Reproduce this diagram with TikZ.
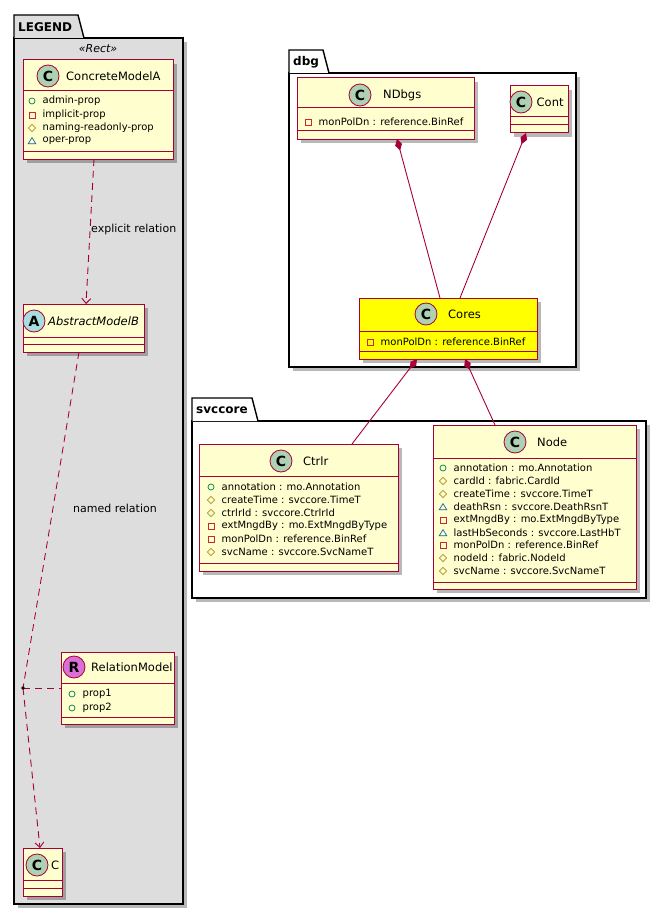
\documentclass[tikz,border=0pt]{standalone}
\usepackage{fontspec}
\setmainfont{DejaVu Sans}
\usetikzlibrary{arrows.meta,shadows}
\definecolor{clsfill}{HTML}{FEFECE}
\definecolor{clsborder}{HTML}{A80036}
\definecolor{spotC}{HTML}{ADD1B2}
\definecolor{spotA}{HTML}{A9DCDF}
\definecolor{spotR}{HTML}{DA70D6}
\definecolor{legendfill}{HTML}{DDDDDD}
\definecolor{vpubc}{HTML}{038048}
\definecolor{vprivc}{HTML}{C82930}
\definecolor{vprotc}{HTML}{B38D22}
\definecolor{vpkgc}{HTML}{1963A0}
\definecolor{coresfill}{HTML}{FFFF00}
\tikzset{
  clsbox/.style={draw=clsborder, line width=1pt, inner sep=0pt, outer sep=0pt,
    drop shadow={shadow xshift=4pt, shadow yshift=-4pt, fill=black, opacity=0.28}},
  clsline/.style={draw=clsborder, line width=1pt},
  spot/.style={circle, draw=clsborder, line width=0.8pt, minimum size=22pt, inner sep=0pt,
    font=\fontsize{14}{14}\selectfont\bfseries},
  clsname/.style={anchor=west, inner sep=0pt, font=\fontsize{11.5}{13}\selectfont},
  attrtext/.style={anchor=west, inner sep=0pt, font=\fontsize{10}{12}\selectfont},
  pkgbody/.style={draw=black, line width=1.4pt, inner sep=0pt, outer sep=0pt,
    drop shadow={shadow xshift=4pt, shadow yshift=-4pt, fill=black, opacity=0.28}},
  pkgtab/.style={draw=black, line width=1.4pt},
  pkglabel/.style={anchor=west, inner sep=0pt, font=\fontsize{12}{14}\selectfont\bfseries},
  deprel/.style={draw=clsborder, line width=0.9pt, dash pattern=on 7pt off 5pt},
  comprel/.style={draw=clsborder, line width=0.9pt, {Diamond[length=12pt,width=7pt,fill=clsborder]}-{}},
  rellabel/.style={anchor=west, inner sep=0pt, font=\fontsize{11}{13}\selectfont},
  icpubs/.style={draw=vpubc, line width=0.7pt},
  icprivs/.style={draw=vprivc, line width=0.7pt},
  icprots/.style={draw=vprotc, line width=0.7pt},
  icpkgs/.style={draw=vpkgc, line width=0.7pt},
}
\newcommand{\icpub}[2]{\draw[icpubs] (#1,#2) circle (3pt);}
\newcommand{\icpriv}[2]{\draw[icprivs, shift={(#1,#2)}] (-3,-3) rectangle (3,3);}
\newcommand{\icprot}[2]{\draw[icprots, shift={(#1,#2)}] (0,-3.6) -- (3.6,0) -- (0,3.6) -- (-3.6,0) -- cycle;}
\newcommand{\icpkg}[2]{\draw[icpkgs, shift={(#1,#2)}] (0,-3.4) -- (3.8,2.8) -- (-3.8,2.8) -- cycle;}
% name, icon macro, icon x, y, text
\newcommand{\attrline}[5]{#2{#3}{#4}\node[attrtext] (#1) at ({#3+10.5},#4) {#5};}
% name, fill, x1, y1, x2, y2, header divider, attribute divider
\newcommand{\clsrect}[8]{%
  \node[clsbox, fill=#2, anchor=north west, minimum width={(#5-#3)*1pt}, minimum height={(#6-#4)*1pt}] (#1) at (#3,#4) {};
  \draw[clsline] (#3,#7) -- (#5,#7);
  \draw[clsline] (#3,#8) -- (#5,#8);
}
\begin{document}
\begin{tikzpicture}[x=1pt,y=-1pt]
\useasboundingbox (0,0) rectangle (666,915);
\fill[white] (0,0) rectangle (666,915);

% ---------------- LEGEND package
\node[pkgbody, fill=legendfill, anchor=north west, minimum width=169pt, minimum height=866pt] (legendpkg) at (14,38) {};
\filldraw[pkgtab, fill=legendfill] (14,38) -- (14,15) -- (78,15) -- (84,38);
\node[pkglabel] (legendlbl) at (18,27) {LEGEND};
\node[inner sep=0pt, font=\fontsize{11}{13}\selectfont\itshape] (stereo) at (98,49) {«Rect»};

% ConcreteModelA
\clsrect{cma}{clsfill}{23}{60}{173}{159}{91}{151}
\node[spot, fill=spotC] (cmaspot) at (48,76) {C};
\node[clsname] (cmaname) at (66,76) {ConcreteModelA};
\attrline{cma1}{\icpub}{32}{101}{admin-prop}
\attrline{cma2}{\icpriv}{32}{115}{implicit-prop}
\attrline{cma3}{\icprot}{32}{128}{naming-readonly-prop}
\attrline{cma4}{\icpkg}{32}{141}{oper-prop}

% AbstractModelB
\clsrect{amb}{clsfill}{23}{304}{144}{352}{337}{344}
\node[spot, fill=spotA] (ambspot) at (34,321) {A};
\node[clsname, font=\fontsize{11.5}{13}\selectfont\itshape] (ambname) at (48,321) {AbstractModelB};

% RelationModel
\clsrect{relm}{clsfill}{61}{652}{174}{724}{683}{717}
\node[spot, fill=spotR] (relmspot) at (74,667) {R};
\node[clsname] (relmname) at (91,667) {RelationModel};
\attrline{relm1}{\icpub}{72}{694}{prop1}
\attrline{relm2}{\icpub}{72}{708}{prop2}

% C
\clsrect{cc}{clsfill}{23}{848}{62}{896}{880}{888}
\node[spot, fill=spotC] (ccspot) at (37,865) {C};
\node[clsname] (ccname) at (51,865) {C};

% legend relations
\draw[deprel, -{Straight Barb[length=5pt,width=9pt]}] (cma.south -| 94,0) -- (amb.north -| 86,0);
\node[rellabel] (explbl) at (91,229) {explicit relation};
\coordinate (reldot) at (23,688);
\draw[deprel] (amb.south -| 79,0) -- (reldot);
\draw[deprel, -{Straight Barb[length=5pt,width=9pt]}] (reldot) -- (cc.north -| 40,0);
\draw[deprel] (reldot) -- (relm.west |- reldot);
\fill[black] (reldot) circle (1.8pt);
\node[rellabel] (namedlbl) at (73,508) {named relation};

% ---------------- dbg package
\node[pkgbody, fill=white, anchor=north west, minimum width=287pt, minimum height=294pt] (dbgpkg) at (289,73) {};
\filldraw[pkgtab, fill=white] (289,73) -- (289,50) -- (323,50) -- (329,73);
\node[pkglabel] (dbglbl) at (293,62) {dbg};

\clsrect{ndbgs}{clsfill}{297}{78}{474}{139}{108}{131}
\node[spot, fill=spotC] (ndbgsspot) at (360,95) {C};
\node[clsname] (ndbgsname) at (383,95) {NDbgs};
\attrline{ndbgs1}{\icpriv}{308}{122}{monPolDn : reference.BinRef}

\clsrect{cont}{clsfill}{510}{86}{568}{133}{117}{125}
\node[spot, fill=spotC] (contspot) at (521,102) {C};
\node[clsname] (contname) at (536.5,102) {Cont};

\clsrect{cores}{coresfill}{359}{298}{537}{359}{331}{351}
\node[spot, fill=spotC] (coresspot) at (426,314) {C};
\node[clsname] (coresname) at (448,314) {Cores};
\attrline{cores1}{\icpriv}{370}{342}{monPolDn : reference.BinRef}

% ---------------- svccore package
\node[pkgbody, fill=white, anchor=north west, minimum width=454pt, minimum height=177pt] (svcpkg) at (192,421) {};
\filldraw[pkgtab, fill=white] (192,421) -- (192,398) -- (252,398) -- (258,421);
\node[pkglabel] (svclbl) at (196,410) {svccore};

\clsrect{ctrlr}{clsfill}{199}{444}{398}{571}{476}{563}
\node[spot, fill=spotC] (ctrlrspot) at (281,461) {C};
\node[clsname] (ctrlrname) at (303,461) {Ctrlr};
\attrline{ctrlr1}{\icpub}{211}{487}{annotation : mo.Annotation}
\attrline{ctrlr2}{\icprot}{211}{500}{createTime : svccore.TimeT}
\attrline{ctrlr3}{\icprot}{211}{513}{ctrlrId : svccore.CtrlrId}
\attrline{ctrlr4}{\icpriv}{211}{526}{extMngdBy : mo.ExtMngdByType}
\attrline{ctrlr5}{\icpriv}{211}{539}{monPolDn : reference.BinRef}
\attrline{ctrlr6}{\icprot}{211}{552}{svcName : svccore.SvcNameT}

\clsrect{node}{clsfill}{433}{425}{636}{589}{458}{582}
\node[spot, fill=spotC] (nodespot) at (515,442) {C};
\node[clsname] (nodename) at (537,442) {Node};
\attrline{node1}{\icpub}{443}{468}{annotation : mo.Annotation}
\attrline{node2}{\icprot}{443}{481}{cardId : fabric.CardId}
\attrline{node3}{\icprot}{443}{494}{createTime : svccore.TimeT}
\attrline{node4}{\icpkg}{443}{507}{deathRsn : svccore.DeathRsnT}
\attrline{node5}{\icpriv}{443}{520}{extMngdBy : mo.ExtMngdByType}
\attrline{node6}{\icpkg}{443}{533}{lastHbSeconds : svccore.LastHbT}
\attrline{node7}{\icpriv}{443}{545}{monPolDn : reference.BinRef}
\attrline{node8}{\icprot}{443}{558}{nodeId : fabric.NodeId}
\attrline{node9}{\icprot}{443}{571}{svcName : svccore.SvcNameT}

% ---------------- compositions
\draw[comprel] (ndbgs.south -| 397,0) -- (cores.north -| 440,0);
\draw[comprel] (cont.south -| 526,0) -- (cores.north -| 460,0);
\draw[comprel] (cores.south -| 417,0) -- (ctrlr.north -| 352,0);
\draw[comprel] (cores.south -| 465,0) -- (node.north -| 495,0);
\end{tikzpicture}
\end{document}
